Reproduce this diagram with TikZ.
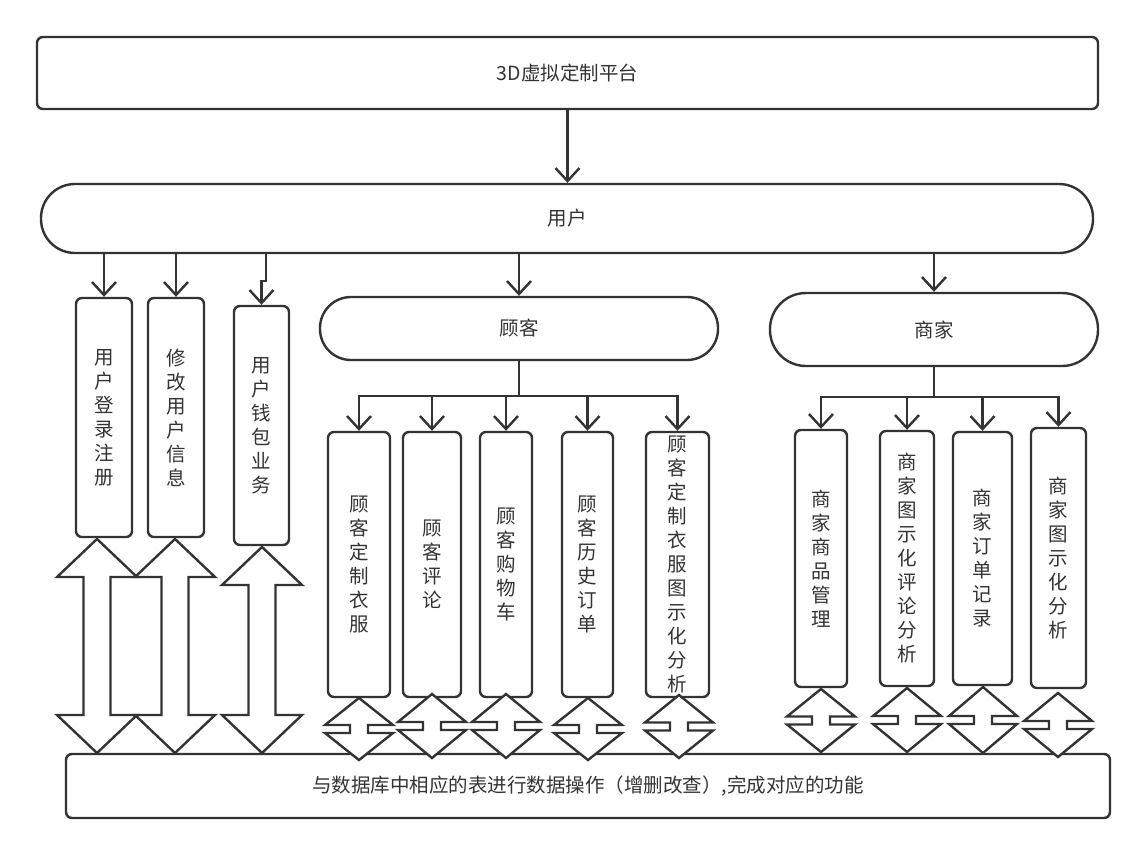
\documentclass[tikz,border=0pt]{standalone}
\usepackage{fontspec}
\usepackage{xcolor}
\usepackage{tikz}
\usetikzlibrary{arrows.meta}
\newfontfamily\cjk{Noto Sans CJK SC}
\XeTeXlinebreaklocale "zh"
\XeTeXlinebreakskip = 0pt plus 1pt
\definecolor{ink}{HTML}{333333}

\tikzset{
  box/.style={draw=ink, line width=2.4bp, rounded corners=6bp, fill=white, text=ink,
    font=\cjk\fontsize{19.5bp}{24bp}\selectfont, inner sep=0pt},
  pill/.style={box, rounded corners=#1},
  vbox/.style={box, text width=20bp, align=center},
  arr/.style={draw=ink, line width=2.4bp, -{Straight Barb[length=13bp,width=24bp]}},
  dbl/.style={draw=ink, line width=2.4bp, fill=white, line join=miter},
}

\begin{document}
\begin{tikzpicture}[x=1bp, y=-1bp]
             \path[use as bounding box, fill=white] (0,0) rectangle (1147,856);

             % top levels
             \node[box, minimum width=1061bp, minimum height=72bp] (platform) at (567.5,73) {3D虚拟定制平台};
             \node[pill=34bp, minimum width=1052bp, minimum height=69bp] (user) at (567,218.5) {用户};
             \node[pill=31bp, minimum width=398bp, minimum height=63bp] (customer) at (519,328.5) {顾客};
             \node[pill=36bp, minimum width=328bp, minimum height=73bp] (merchant) at (934,329.5) {商家};

             % user functions
             \node[vbox, minimum width=56bp, minimum height=239bp] (login) at (104,417.5) {用户登录注册};
             \node[vbox, minimum width=56bp, minimum height=239bp] (profile) at (176,417.5) {修改用户信息};
             \node[vbox, minimum width=55bp, minimum height=239bp] (wallet) at (261.5,425.5) {用户钱包业务};

             % customer functions
             \node[vbox, minimum width=62bp, minimum height=265bp] (design) at (359,564.5) {顾客定制衣服};
             \node[vbox, minimum width=58bp, minimum height=265bp] (review) at (432,564.5) {顾客评论};
             \node[vbox, minimum width=52bp, minimum height=265bp] (cart) at (506,564.5) {顾客购物车};
             \node[vbox, minimum width=51bp, minimum height=265bp] (history) at (587.5,564.5) {顾客历史订单};
             \node[vbox, minimum width=63bp, minimum height=265bp] (chart) at (677.5,564.5) {顾客定制衣服图示化分析};

             % merchant functions
             \node[vbox, minimum width=52bp, minimum height=257bp] (goods) at (821,558.5) {商家商品管理};
             \node[vbox, minimum width=54bp, minimum height=255bp] (mreview) at (907,558.5) {商家图示化评论分析};
             \node[vbox, minimum width=59bp, minimum height=253bp] (orders) at (982.5,558.5) {商家订单记录};
             \node[vbox, minimum width=55bp, minimum height=260bp] (manalysis) at (1058.5,558) {商家图示化分析};

             % database
             \node[box, minimum width=1044bp, minimum height=64bp] (db) at (588,786) {与数据库中相应的表进行数据操作（增删改查）,完成对应的功能};

             % connectors
             \draw[arr] (platform.south) -- (platform.south |- user.north);
             \foreach \n in {login, profile, customer, merchant}
               \draw[arr] (\n.north |- user.south) -- (\n.north);
             \coordinate (jog) at (266,281);
             \draw[arr] (jog |- user.south) -- (jog) -| (wallet.north);

             \coordinate (cfork) at (519,396);
             \foreach \n in {design, review, cart, history, chart}
               \draw[arr] (customer.south) -- (cfork) -| (\n.north);
             \coordinate (mfork) at (934,397);
             \foreach \n in {goods, mreview, orders, manalysis}
               \draw[arr] (merchant.south) -- (mfork) -| (\n.north);

             % hollow double arrows to the database
             \foreach \cx/\yt in {97/539, 175/539, 262/547}
               \draw[dbl] (\cx,\yt) -- (\cx-40,\yt+38) -- (\cx-13.5,\yt+38) -- (\cx-13.5,715)
                 -- (\cx-40,715) -- (\cx,753) -- (\cx+40,715) -- (\cx+13.5,715)
                 -- (\cx+13.5,\yt+38) -- (\cx+40,\yt+38) -- cycle;
             \foreach \cx/\yt/\yb in {359/698/760, 432/694/758, 506/694/758, 588/698/760, 679/695/758,
                                      821/689/752, 907/688/752, 983/687/753, 1058/693/757}
               {\pgfmathsetmacro\ym{(\yt+\yb)/2}
                \draw[dbl] (\cx,\yt) -- (\cx-34,\ym-4) -- (\cx-9,\ym-4) -- (\cx-9,\ym+4)
                  -- (\cx-34,\ym+4) -- (\cx,\yb) -- (\cx+34,\ym+4) -- (\cx+9,\ym+4)
                  -- (\cx+9,\ym-4) -- (\cx+34,\ym-4) -- cycle;}
             \end{tikzpicture}
\end{document}
